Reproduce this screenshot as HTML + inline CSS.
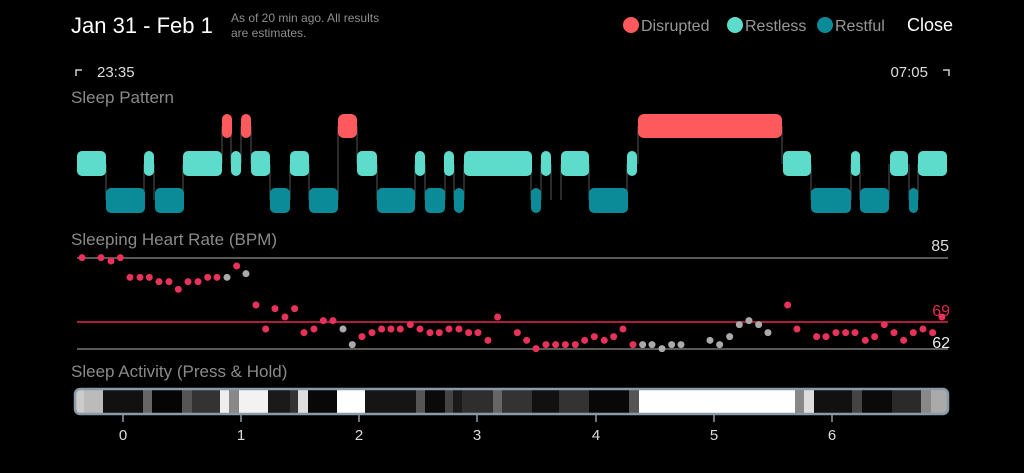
<!DOCTYPE html>
<html><head><style>
body{margin:0;width:1024px;height:473px;background:#000;overflow:hidden;font-family:"Liberation Sans",sans-serif;}
svg{display:block}
</style></head><body>
<svg width="1024" height="473" viewBox="0 0 1024 473" font-family="Liberation Sans, sans-serif">
<text x="71" y="33" fill="#fff" font-size="22">Jan 31 - Feb 1</text>
<text x="231" y="22" fill="#8e8e8e" font-size="12">As of 20 min ago. All results</text>
<text x="231" y="37" fill="#8e8e8e" font-size="12">are estimates.</text>
<circle cx="631" cy="25" r="8" fill="#fe5a5d"/><text x="641" y="31" fill="#999" font-size="16">Disrupted</text>
<circle cx="735" cy="25" r="8" fill="#5ddccb"/><text x="745" y="31" fill="#999" font-size="16">Restless</text>
<circle cx="825" cy="25" r="8" fill="#0b8a98"/><text x="835" y="31" fill="#999" font-size="16">Restful</text>
<text x="907" y="31" fill="#fff" font-size="18">Close</text>
<path d="M76 76V70H82M949 76V70H943" stroke="#ccc" stroke-width="1.5" fill="none"/>
<text x="97" y="77" fill="#ddd" font-size="15">23:35</text>
<text x="928" y="77" fill="#ddd" font-size="15" text-anchor="end">07:05</text>
<text x="71" y="103" fill="#8a8a8a" font-size="17">Sleep Pattern</text>
<text x="71" y="245" fill="#8a8a8a" font-size="17">Sleeping Heart Rate (BPM)</text>
<text x="71" y="377" fill="#8a8a8a" font-size="17">Sleep Activity (Press &amp; Hold)</text>
<g stroke="#555" stroke-width="1">
<path d="M106 164V200M144 164V200M154 164V200M183 164V200M222 126V164M231 126V164M241 126V164M251 126V164M270 164V200M290 164V200M309 164V200M338 126V200M357 126V164M377 164V200M415 164V200M425 164V200M445 164V200M454 164V200M464 164V200M531 164V200M541 164V200M551 164V200M561 164V200M589 164V200M627 164V200M638 126V164M782 126V164M811 164V200M851 164V200M860 164V200M889 164V200M909 164V200M918 164V200"/>
</g>
<g fill="#5ddccb">
<rect x="77" y="151" width="29" height="25" rx="5"/><rect x="144" y="151" width="10" height="25" rx="5"/><rect x="183" y="151" width="39" height="25" rx="5"/><rect x="231" y="151" width="10" height="25" rx="5"/><rect x="251" y="151" width="19" height="25" rx="5"/><rect x="290" y="151" width="19" height="25" rx="5"/><rect x="357" y="151" width="20" height="25" rx="5"/><rect x="415" y="151" width="10" height="25" rx="5"/><rect x="444" y="151" width="10" height="25" rx="5"/><rect x="464" y="151" width="68" height="25" rx="5"/><rect x="541" y="151" width="10" height="25" rx="5"/><rect x="561" y="151" width="28" height="25" rx="5"/><rect x="627" y="151" width="10" height="25" rx="5"/><rect x="783" y="151" width="28" height="25" rx="5"/><rect x="851" y="151" width="9" height="25" rx="4.5"/><rect x="890" y="151" width="18" height="25" rx="5"/><rect x="918" y="151" width="29" height="25" rx="5"/>
</g>
<g fill="#0b8a98">
<rect x="106" y="188" width="39" height="25" rx="5"/><rect x="155" y="188" width="29" height="25" rx="5"/><rect x="270" y="188" width="20" height="25" rx="5"/><rect x="309" y="188" width="29" height="25" rx="5"/><rect x="377" y="188" width="38" height="25" rx="5"/><rect x="425" y="188" width="20" height="25" rx="5"/><rect x="454" y="188" width="10" height="25" rx="5"/><rect x="531" y="188" width="10" height="25" rx="5"/><rect x="589" y="188" width="39" height="25" rx="5"/><rect x="811" y="188" width="40" height="25" rx="5"/><rect x="860" y="188" width="29" height="25" rx="5"/><rect x="909" y="188" width="9" height="25" rx="4.5"/>
</g>
<g fill="#fe5a5d">
<rect x="222" y="114" width="10" height="24" rx="5"/><rect x="241" y="114" width="10" height="24" rx="5"/><rect x="338" y="114" width="19" height="24" rx="6"/><rect x="638" y="114" width="144" height="24" rx="6"/>
</g>
<line x1="77" y1="258" x2="948" y2="258" stroke="#777" stroke-width="1.5"/>
<line x1="77" y1="322" x2="948" y2="322" stroke="#e0294f" stroke-width="1.5"/>
<line x1="77" y1="349" x2="948" y2="349" stroke="#777" stroke-width="1.5"/>
<text x="949" y="251" fill="#ddd" font-size="16" text-anchor="end">85</text>
<text x="950" y="316" fill="#e0294f" font-size="16" text-anchor="end">69</text>
<text x="950" y="348" fill="#eee" font-size="16" text-anchor="end">62</text>
<g transform="translate(60,245) scale(0.3333)">
<g fill="#e8325a">
<circle cx="66" cy="38" r="10.5"/><circle cx="123" cy="38" r="10.5"/><circle cx="153" cy="48" r="10.5"/><circle cx="181" cy="38" r="10.5"/><circle cx="210" cy="97" r="10.5"/><circle cx="240" cy="97" r="10.5"/><circle cx="268" cy="97" r="10.5"/><circle cx="297" cy="110" r="10.5"/><circle cx="327" cy="110" r="10.5"/><circle cx="355" cy="133" r="10.5"/><circle cx="384" cy="110" r="10.5"/><circle cx="414" cy="110" r="10.5"/><circle cx="443" cy="97" r="10.5"/><circle cx="471" cy="97" r="10.5"/><circle cx="530" cy="63" r="10.5"/><circle cx="588" cy="180" r="10.5"/><circle cx="617" cy="252" r="10.5"/><circle cx="645" cy="191" r="10.5"/><circle cx="675" cy="216" r="10.5"/><circle cx="704" cy="191" r="10.5"/><circle cx="732" cy="263" r="10.5"/><circle cx="762" cy="252" r="10.5"/><circle cx="790" cy="227" r="10.5"/><circle cx="819" cy="227" r="10.5"/><circle cx="906" cy="275" r="10.5"/><circle cx="936" cy="263" r="10.5"/><circle cx="965" cy="252" r="10.5"/><circle cx="993" cy="252" r="10.5"/><circle cx="1021" cy="252" r="10.5"/><circle cx="1051" cy="239" r="10.5"/><circle cx="1080" cy="252" r="10.5"/><circle cx="1110" cy="263" r="10.5"/><circle cx="1138" cy="263" r="10.5"/><circle cx="1167" cy="252" r="10.5"/><circle cx="1197" cy="252" r="10.5"/><circle cx="1226" cy="263" r="10.5"/><circle cx="1254" cy="263" r="10.5"/><circle cx="1284" cy="286" r="10.5"/><circle cx="1313" cy="216" r="10.5"/>
</g>
<g fill="#aaa"><circle cx="501" cy="97" r="10.5"/><circle cx="558" cy="86" r="10.5"/><circle cx="849" cy="252" r="10.5"/><circle cx="877" cy="299" r="10.5"/></g>
</g>
<g transform="translate(500,245) scale(0.3333)">
<g fill="#e8325a">
<circle cx="52" cy="263" r="10.5"/><circle cx="80" cy="286" r="10.5"/><circle cx="108" cy="311" r="10.5"/><circle cx="138" cy="299" r="10.5"/><circle cx="167" cy="299" r="10.5"/><circle cx="196" cy="299" r="10.5"/><circle cx="226" cy="299" r="10.5"/><circle cx="254" cy="286" r="10.5"/><circle cx="283" cy="275" r="10.5"/><circle cx="313" cy="286" r="10.5"/><circle cx="341" cy="275" r="10.5"/><circle cx="369" cy="252" r="10.5"/><circle cx="399" cy="299" r="10.5"/><circle cx="863" cy="180" r="10.5"/><circle cx="891" cy="252" r="10.5"/><circle cx="950" cy="275" r="10.5"/><circle cx="978" cy="275" r="10.5"/><circle cx="1008" cy="263" r="10.5"/><circle cx="1037" cy="263" r="10.5"/><circle cx="1065" cy="263" r="10.5"/><circle cx="1096" cy="286" r="10.5"/><circle cx="1124" cy="275" r="10.5"/><circle cx="1153" cy="239" r="10.5"/><circle cx="1182" cy="263" r="10.5"/><circle cx="1211" cy="286" r="10.5"/><circle cx="1240" cy="263" r="10.5"/><circle cx="1269" cy="252" r="10.5"/><circle cx="1298" cy="263" r="10.5"/><circle cx="1326" cy="216" r="10.5"/>
</g>
<g fill="#aaa"><circle cx="428" cy="299" r="10.5"/><circle cx="456" cy="299" r="10.5"/><circle cx="486" cy="311" r="10.5"/><circle cx="515" cy="299" r="10.5"/><circle cx="543" cy="299" r="10.5"/><circle cx="630" cy="286" r="10.5"/><circle cx="659" cy="299" r="10.5"/><circle cx="689" cy="275" r="10.5"/><circle cx="718" cy="239" r="10.5"/><circle cx="747" cy="227" r="10.5"/><circle cx="776" cy="239" r="10.5"/><circle cx="804" cy="263" r="10.5"/></g>
</g>
<clipPath id="bc"><rect x="75" y="389" width="873" height="25" rx="5"/></clipPath>
<g clip-path="url(#bc)">
<rect x="74" y="388" width="10" height="28" fill="#ccc"/><rect x="84" y="388" width="19" height="28" fill="#bbb"/><rect x="103" y="388" width="40" height="28" fill="#111"/><rect x="143" y="388" width="9" height="28" fill="#666"/><rect x="152" y="388" width="30" height="28" fill="#050505"/><rect x="182" y="388" width="10" height="28" fill="#555"/><rect x="192" y="388" width="28" height="28" fill="#333"/><rect x="220" y="388" width="9" height="28" fill="#eee"/><rect x="229" y="388" width="10" height="28" fill="#888"/><rect x="239" y="388" width="29" height="28" fill="#f2f2f2"/><rect x="268" y="388" width="22" height="28" fill="#1a1a1a"/><rect x="290" y="388" width="8" height="28" fill="#333"/><rect x="298" y="388" width="10" height="28" fill="#ddd"/><rect x="308" y="388" width="29" height="28" fill="#080808"/><rect x="337" y="388" width="28" height="28" fill="#fff"/><rect x="365" y="388" width="51" height="28" fill="#151515"/><rect x="416" y="388" width="9" height="28" fill="#555"/><rect x="425" y="388" width="20" height="28" fill="#0a0a0a"/><rect x="445" y="388" width="8" height="28" fill="#444"/><rect x="453" y="388" width="9" height="28" fill="#1a1a1a"/><rect x="462" y="388" width="31" height="28" fill="#2e2e2e"/><rect x="493" y="388" width="9" height="28" fill="#666"/><rect x="502" y="388" width="30" height="28" fill="#333"/><rect x="532" y="388" width="27" height="28" fill="#111"/><rect x="559" y="388" width="30" height="28" fill="#333"/><rect x="589" y="388" width="40" height="28" fill="#080808"/><rect x="629" y="388" width="10" height="28" fill="#555"/><rect x="639" y="388" width="156" height="28" fill="#fff"/><rect x="795" y="388" width="9" height="28" fill="#888"/><rect x="804" y="388" width="10" height="28" fill="#ddd"/><rect x="814" y="388" width="38" height="28" fill="#111"/><rect x="852" y="388" width="10" height="28" fill="#444"/><rect x="862" y="388" width="30" height="28" fill="#0a0a0a"/><rect x="892" y="388" width="29" height="28" fill="#2a2a2a"/><rect x="921" y="388" width="10" height="28" fill="#888"/><rect x="931" y="388" width="17" height="28" fill="#aaa"/>
</g>
<rect x="75" y="389" width="873" height="25" rx="5" fill="none" stroke="#8a9aa8" stroke-width="2.5"/>
<g stroke="#8a9aa8" stroke-width="1.5"><path d="M123 415V422M241 415V422M359 415V422M477 415V422M596 415V422M714 415V422M832 415V422"/></g>
<g fill="#ddd" font-size="15" text-anchor="middle">
<text x="123" y="440">0</text><text x="241" y="440">1</text><text x="359" y="440">2</text><text x="477" y="440">3</text><text x="596" y="440">4</text><text x="714" y="440">5</text><text x="832" y="440">6</text>
</g>
</svg>
</body></html>
